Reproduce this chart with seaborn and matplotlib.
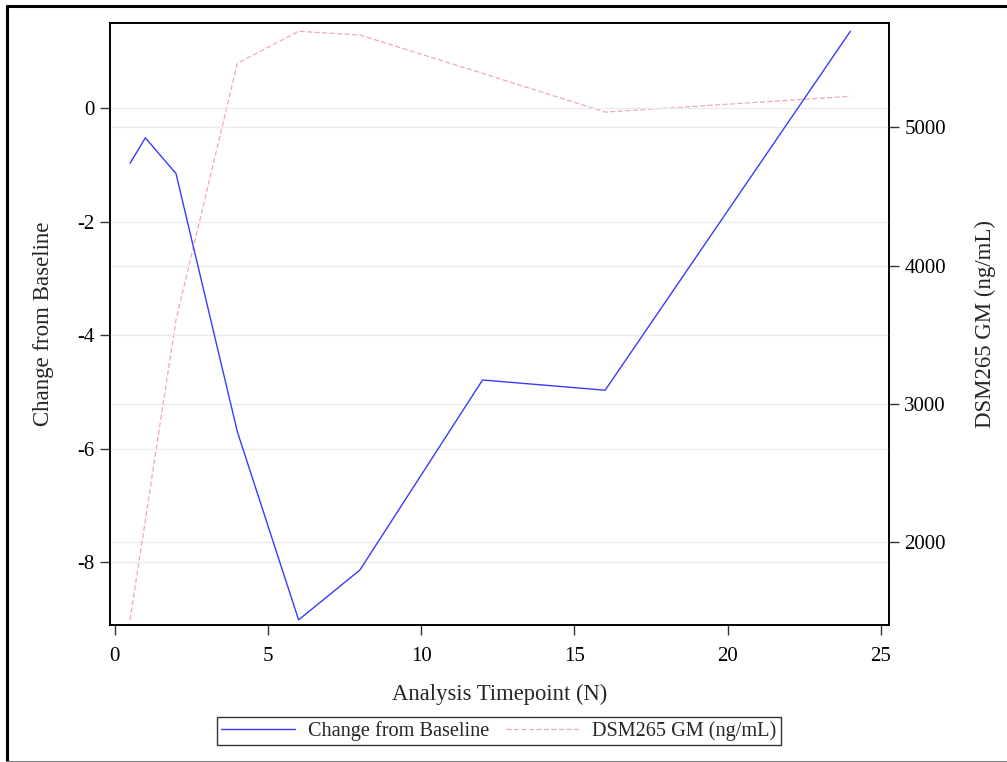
import matplotlib
matplotlib.use("Agg")
import matplotlib.pyplot as plt
from matplotlib.lines import Line2D
import seaborn as sns
import pandas as pd

# Timepoints and the two measured series
timepoints = [0.5, 1, 2, 4, 6, 8, 12, 16, 24]
change_from_baseline = [-0.97, -0.52, -1.15, -5.70, -9.02, -8.14, -4.79, -4.97, 1.36]
dsm265_gm = [1439, 2160, 3608, 5462, 5694, 5667, 5390, 5110, 5224]

x_ticks = [0, 5, 10, 15, 20, 25]
left_ticks = [-8, -6, -4, -2, 0]
right_ticks = [2000, 3000, 4000, 5000]

sns.set_style("white")
plt.rcParams["font.family"] = ["Liberation Serif", "DejaVu Serif"]

df = pd.DataFrame({"t": timepoints, "chg": change_from_baseline, "gm": dsm265_gm})

W, H = 1007, 762
fig = plt.figure(figsize=(W / 100, H / 100), dpi=100)
ax = fig.add_axes([110 / W, 1 - 625 / H, 779 / W, 602 / H])
ax2 = ax.twinx()

blue = "#3a3aff"
pink = "#eeaab4"

sns.lineplot(data=df, x="t", y="chg", ax=ax, color=blue, linewidth=1.0,
             label="Change from Baseline", legend=False)
sns.lineplot(data=df, x="t", y="gm", ax=ax2, color=pink, linewidth=0.9,
             linestyle=(0, (4, 2)), label="DSM265 GM (ng/mL)", legend=False)

ax.set_xlim(-0.153, 25.26)
ax.set_ylim(-9.11, 1.505)
ax2.set_ylim(1402, 5754)

ax.set_xticks(x_ticks)
ax.set_yticks(left_ticks)
ax2.set_yticks(right_ticks)
ax.set_yticklabels([str(v) for v in left_ticks])

# Horizontal reference lines for both scales
grid_c = "#ebebeb"
for v in left_ticks:
    ax.axhline(v, color=grid_c, linewidth=1.0, zorder=0)
for v in right_ticks:
    ax2.axhline(v, color=grid_c, linewidth=1.0, zorder=0)
ax.set_zorder(ax2.get_zorder() + 1)
ax.patch.set_visible(False)

for a in (ax, ax2):
    for s in a.spines.values():
        s.set_color("black")
        s.set_linewidth(1.2)
    a.tick_params(direction="out", length=7, width=1.0, color="#333333",
                  labelsize=15, labelcolor="black")

ax.tick_params(axis="x", bottom=True, pad=9)
ax.tick_params(axis="y", left=True, pad=4)
ax2.tick_params(axis="y", right=True, pad=4)

ax.set_xlabel("Analysis Timepoint (N)", fontsize=16.3, labelpad=13)
ax.set_ylabel("Change from Baseline", fontsize=16.5, labelpad=17)
ax2.set_ylabel("DSM265 GM (ng/mL)", fontsize=16.5, labelpad=21)

h1, l1 = ax.get_legend_handles_labels()
h2, l2 = ax2.get_legend_handles_labels()
leg = fig.legend(h1 + h2, l1 + l2, loc="center", ncol=2,
                 bbox_to_anchor=(499 / W, 1 - 731 / H),
                 fontsize=14.6, frameon=True, fancybox=False,
                 handlelength=3.65, columnspacing=0.85, borderpad=0.2,
                 handletextpad=0.6, borderaxespad=0)
leg.get_frame().set_edgecolor("black")
leg.get_frame().set_linewidth(1.0)

# Outer frame around the whole graphic
fig.add_artist(Line2D([7 / W, 1.0], [1 - 5.5 / H, 1 - 5.5 / H], color="black",
                      linewidth=2.2, transform=fig.transFigure))
fig.add_artist(Line2D([7 / W, 7 / W], [1 - 5.5 / H, 1 - 761.5 / H], color="black",
                      linewidth=2.2, transform=fig.transFigure))
fig.add_artist(Line2D([7 / W, 1.0], [1 - 761.5 / H, 1 - 761.5 / H], color="#808080",
                      linewidth=1.5, transform=fig.transFigure))

fig.savefig("out.png", dpi=100)
